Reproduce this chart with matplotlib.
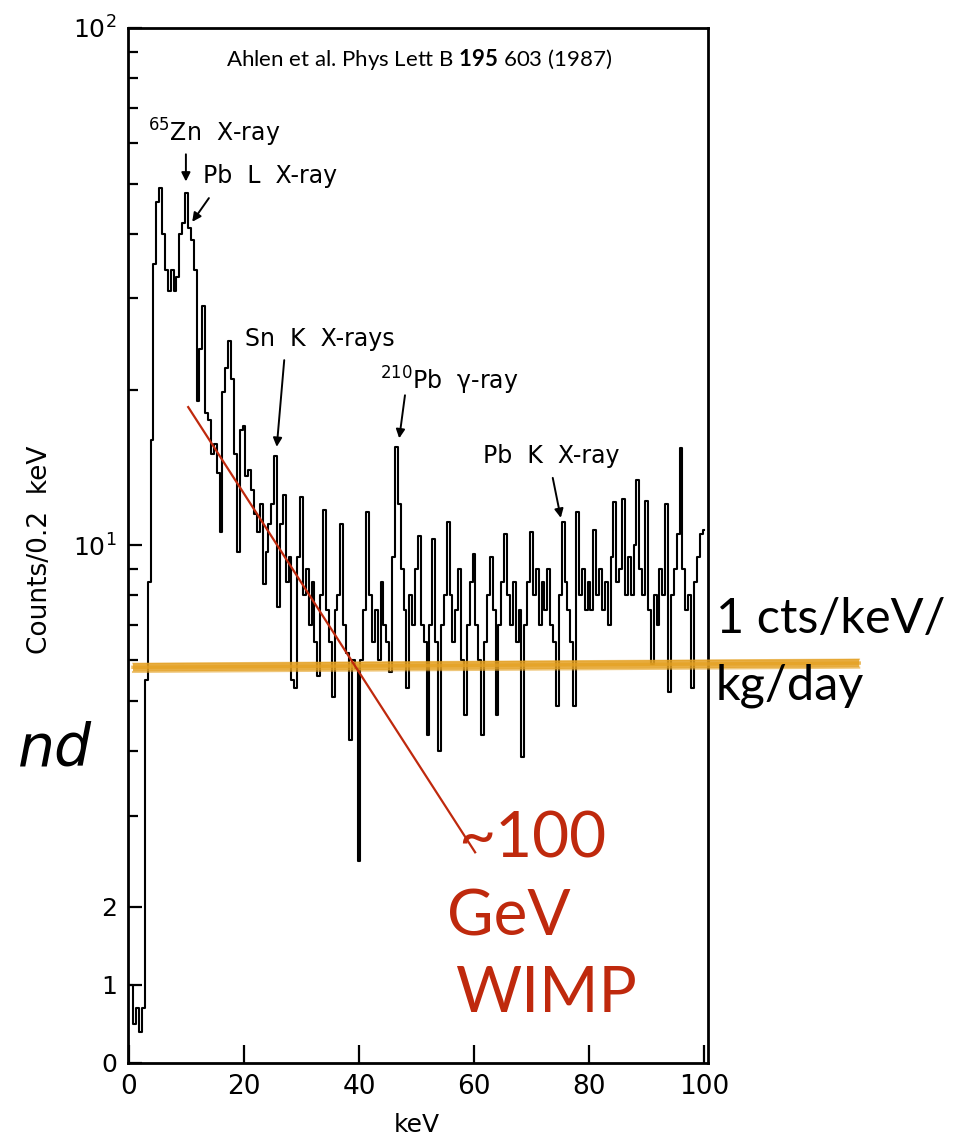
import numpy as np
import matplotlib

matplotlib.use("Agg")
import matplotlib.pyplot as plt
from matplotlib.ticker import FixedLocator, FixedFormatter, NullFormatter

W, H = 954, 1138

plt.rcParams["mathtext.fontset"] = "custom"
plt.rcParams["mathtext.rm"] = "DejaVu Sans"
plt.rcParams["mathtext.bf"] = "Lato:bold"
plt.rcParams["mathtext.default"] = "regular"

# spectrum, 0.5 keV steps from 0 to 100 keV
energy_kev = np.arange(0, 100.5, 0.5)
counts = [
    1.0, 1.0, 0.5, 0.7, 0.4, 0.7, 5.5, 8.5, 16, 35,           # 0 - 4.5
    46, 49, 40, 34, 31, 34, 31, 33, 40, 42,                     # 5 - 9.5
    48, 41, 39, 34, 19, 24, 29, 18, 17.5, 15,                   # 10 - 14.5
    15.7, 13.8, 10.6, 19.8, 22, 24.8, 21, 15, 9.7, 16.7,        # 15 - 19.5
    17, 13.6, 14, 12.8, 11.5, 10.6, 12, 8.4, 9.7, 11,           # 20 - 24.5
    12, 14.9, 7.6, 11, 12.5, 8.5, 9.5, 5.5, 5.3, 9.5,           # 25 - 29.5
    12.4, 8, 9, 7, 8.5, 6.5, 5.6, 8, 11.7, 7.5,                 # 30 - 34.5
    6.5, 5.1, 7.5, 8, 11, 7, 6.2, 4.2, 6, 5.8,                  # 35 - 39.5
    2.45, 6, 7.5, 11.6, 8, 6.5, 7.5, 6, 8.5, 7,                 # 40 - 44.5
    6.5, 5.7, 9.5, 15.5, 12, 9, 7.5, 5.3, 8, 7,                 # 45 - 49.5
    9, 10.4, 7, 6.5, 4.3, 7, 10.3, 6.5, 4, 7,                   # 50 - 54.5
    8, 11.1, 8, 6.5, 7.5, 9, 6, 4.7, 7, 8.5,                    # 55 - 59.5
    9.6, 7, 6, 4.3, 6.5, 8, 9.5, 7.5, 4.7, 7,                   # 60 - 64.5
    8.5, 10.5, 8, 7, 8.5, 6.5, 7.5, 3.9, 7, 8.5,                # 65 - 69.5
    10.6, 8, 9, 7, 8.5, 7.5, 9, 7, 6.5, 4.9,                    # 70 - 74.5
    8, 11.1, 8.5, 7.5, 6.5, 4.9, 11.6, 8, 9, 7.5,               # 75 - 79.5
    8.5, 7.5, 10.7, 8, 9, 7.5, 8.5, 7, 9.5, 12.1,               # 80 - 84.5
    8.5, 9, 12.3, 8, 9.5, 8, 10, 13.4, 9, 8,                    # 85 - 89.5
    12.2, 7.5, 5.9, 8, 7, 9, 8, 12, 5.2, 8,                     # 90 - 94.5
    9, 10.5, 15.4, 9, 7.5, 8, 5.3, 8.5, 9.5, 10.5,              # 95 - 99.5
    10.7,                                                       # 100
]

y_major = [0, 1, 2, 10, 100]
y_major_labels = ["0", "1", "2", r"$10^1$", r"$10^2$"]
y_minor = [3, 4, 5, 6, 7, 8, 9, 20, 30, 40, 50, 60, 70, 80, 90]
x_ticks = [0, 20, 40, 60, 80, 100]

peak_names = [r"$^{65}$Zn  X-ray", "Pb  L  X-ray", "Sn  K  X-rays",
              r"$^{210}$Pb  γ-ray", "Pb  K  X-ray"]
peak_text_at = [(3.3, 62.7), (12.9, 51.8), (20.2, 25.1), (43.7, 20.8), (61.6, 14.9)]
arrow_tails = [(9.9, 57.0), (13.9, 46.9), (27.0, 22.8), (48.0, 19.5), (73.7, 13.5)]
arrow_tips = [(9.9, 50.5), (11.0, 42.2), (25.7, 15.5), (47.0, 16.1), (75.1, 11.3)]

# exponential ~100 GeV WIMP recoil spectrum (straight on the log axis)
wimp_kev = [10.3, 60.2]
wimp_counts = [18.5, 2.55]

# 1 cts/keV/kg/day level
bg_kev = [0.7, 127.0]
bg_counts = [5.81, 5.92]

RED = "#bf290d"
ORANGE = "#e4a021"
LIN_SLOPE = 0.1509  # decades per count below 2 counts
LOG2 = np.log10(2)


def _fwd(v):
    v = np.asarray(v, dtype=float)
    return np.where(v >= 2, np.log10(np.maximum(v, 2)), LOG2 - (2 - v) * LIN_SLOPE)


def _inv(u):
    u = np.asarray(u, dtype=float)
    return np.where(u >= LOG2, 10 ** np.minimum(u, 5), 2 - (LOG2 - u) / LIN_SLOPE)


def px(x, y):
    return x / W, 1 - y / H


fig = plt.figure(figsize=(W / 100, H / 100), dpi=100)
ax = fig.add_axes([128 / W, 1 - 1063 / H, 580 / W, 1035 / H])

ax.plot(energy_kev, counts, drawstyle="steps-mid", color="black", lw=1.5, zorder=3)

ax.set_yscale("function", functions=(_fwd, _inv))
ax.set_ylim(0, 100)
ax.set_xlim(-0.17, 100.7)

ax.yaxis.set_major_locator(FixedLocator(y_major))
ax.yaxis.set_major_formatter(FixedFormatter(y_major_labels))
ax.yaxis.set_minor_locator(FixedLocator(y_minor))
ax.yaxis.set_minor_formatter(NullFormatter())
ax.set_xticks(x_ticks)
ax.set_xticklabels([str(t) for t in x_ticks])

ax.tick_params(which="both", direction="in", top=False, right=False, width=1.6)
ax.tick_params(axis="y", which="major", length=10, labelsize=18, pad=8)
ax.tick_params(axis="y", which="minor", length=7)
ax.tick_params(axis="x", which="major", length=13, labelsize=19, pad=8)
for sp in ax.spines.values():
    sp.set_linewidth(2.0)

for name, pos in zip(peak_names, peak_text_at):
    ax.text(pos[0], pos[1], name, fontsize=17, ha="left", va="center")
for tail, tip in zip(arrow_tails, arrow_tips):
    ax.annotate("", xy=tip, xytext=tail,
                arrowprops=dict(arrowstyle="-|>", color="black", lw=1.4,
                                mutation_scale=13, shrinkA=0, shrinkB=0))

# brushed orange stroke
ax.plot(bg_kev, bg_counts, color=ORANGE, lw=6, alpha=0.85,
        solid_capstyle="butt", clip_on=False, zorder=5)
for dy, lw, a in [(-0.12, 1.5, 0.6), (0.1, 1.2, 0.5), (0.0, 2.5, 0.7)]:
    ax.plot(bg_kev, [c + dy for c in bg_counts], color=ORANGE, lw=lw, alpha=a,
            clip_on=False, zorder=5)

ax.plot(wimp_kev, wimp_counts, color=RED, lw=1.6, zorder=6)

fig.text(*px(40, 550), "Counts/0.2  keV", rotation=90, ha="center", va="center", fontsize=19)
fig.text(*px(417, 1125), "keV", ha="center", va="center", fontsize=18)

fig.text(*px(226, 60), r"Ahlen et al. Phys Lett B $\mathbf{195}$ 603 (1987)",
         family="Lato", fontsize=16, ha="left", va="center")

fig.text(*px(458, 858), "~100", family="Lato", fontsize=46, color=RED, va="baseline")
fig.text(*px(447, 935), "GeV", family="Lato", fontsize=46, color=RED, va="baseline")
fig.text(*px(455, 1012), "WIMP", family="Lato", fontsize=46, color=RED, va="baseline")

fig.text(*px(716, 633), "1 cts/keV/", family="Lato", fontsize=35, va="baseline")
fig.text(*px(716, 700), "kg/day", family="Lato", fontsize=35, va="baseline")

fig.text(*px(92, 766), "nd", family="DejaVu Sans", style="oblique", fontsize=42,
         ha="right", va="baseline")

fig.savefig("out.png", dpi=100)
